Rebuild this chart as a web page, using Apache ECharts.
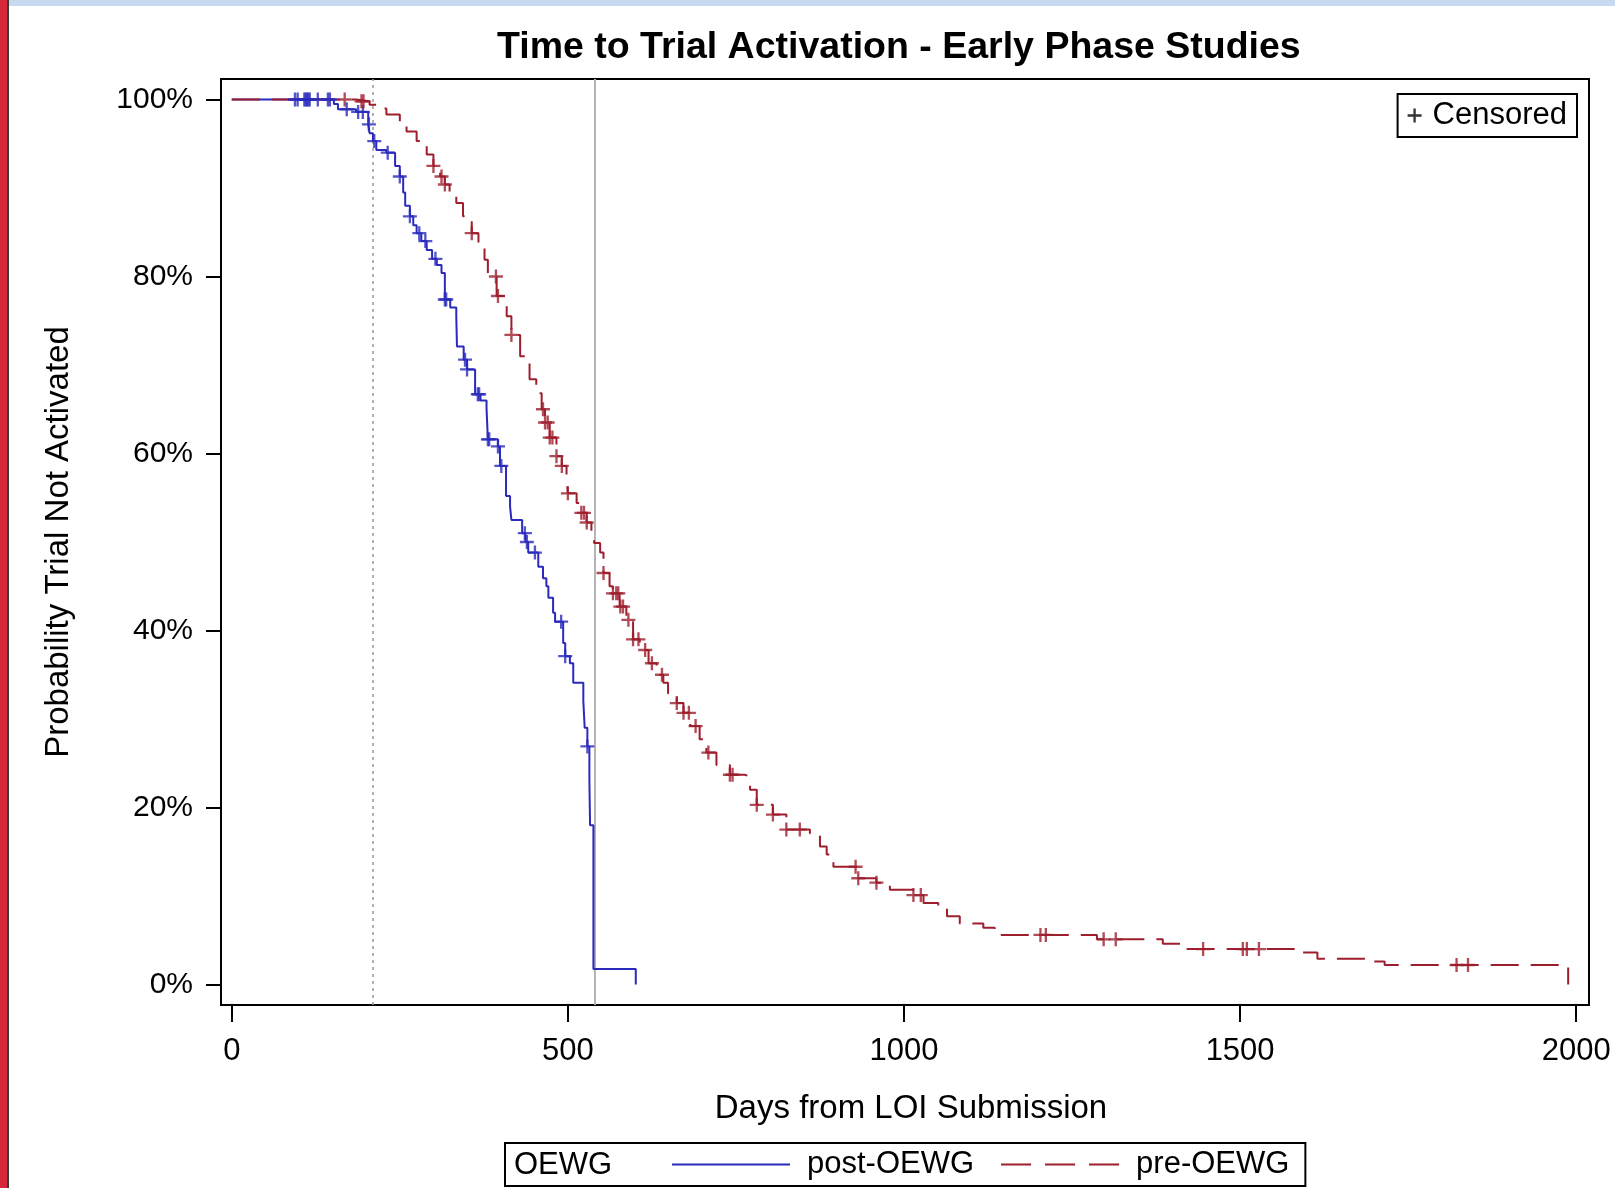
<!DOCTYPE html>
<html>
<head>
<meta charset="utf-8">
<script src="https://cdn.jsdelivr.net/npm/echarts@6/dist/echarts.min.js"></script>
<style>
html,body{margin:0;padding:0;background:#fff;}
#chart{width:1615px;height:1188px;}
</style>
</head>
<body>
<div id="chart"></div>
<script>
// ---- data ----
const chartTitle = 'Time to Trial Activation - Early Phase Studies';
const xTitle = 'Days from LOI Submission';
const yTitle = 'Probability Trial Not Activated';
const groupTitle = 'OEWG';
const groupNames = ['post-OEWG', 'pre-OEWG'];
const xTicks = [0, 500, 1000, 1500, 2000];
const yTicks = [0, 0.2, 0.4, 0.6, 0.8, 1.0];
const refDotted = 210;
const refSolid = 540;

// post-OEWG Kaplan-Meier steps (day, survival)
const postDays = [0,152,158,185,203,205,210,215,230,243,250,255,258,265,270,275,282,290,298,305,312,317,325,334,335,345,350,362,370,379,381,396,399,408,414,416,432,437,441,456,463,468,471,478,481,493,496,503,508,523,525,529,532,533,538,601];
const postSurv = [1,.995,.989,.986,.972,.962,.953,.943,.940,.925,.913,.895,.880,.868,.858,.849,.840,.830,.820,.813,.804,.774,.765,.755,.721,.706,.695,.667,.660,.651,.616,.608,.586,.552,.540,.525,.510,.500,.488,.472,.459,.450,.437,.420,.410,.386,.371,.363,.341,.320,.290,.269,.231,.180,.0175,0];
const postCensDays = [94,98,108,110,112,114,116,128,143,146,171,188,195,204,212,232,250,265,279,288,303,317,319,347,350,366,368,381,383,396,401,436,439,451,490,496,529];

// pre-OEWG Kaplan-Meier steps (day, survival)
const preDays = [0,185,205,215,230,250,260,275,290,300,310,317,324,334,344,357,367,376,381,394,409,416,429,443,453,461,466,473,483,491,498,500,513,520,528,535,539,548,553,562,567,577,587,597,607,620,632,642,649,662,672,682,696,706,721,741,763,771,781,805,825,860,875,885,895,930,959,979,1014,1029,1051,1064,1083,1118,1135,1287,1385,1415,1585,1615,1690,1715,1988];
const preSurv = [1,.998,.994,.990,.983,.975,.964,.953,.938,.925,.913,.904,.895,.883,.868,.849,.838,.819,.800,.778,.755,.734,.710,.684,.668,.650,.635,.618,.597,.586,.574,.555,.544,.533,.522,.510,.499,.488,.465,.450,.442,.427,.412,.390,.378,.363,.350,.341,.329,.318,.307,.292,.277,.262,.248,.237,.235,.220,.203,.192,.175,.171,.156,.147,.133,.120,.115,.107,.101,.092,.086,.077,.069,.064,.056,.051,.046,.040,.036,.029,.026,.022,0];
const preCensDays = [168,193,196,300,312,317,357,393,396,416,463,466,470,473,477,483,491,500,520,524,528,553,567,572,575,578,582,590,597,605,615,625,640,662,672,680,690,709,741,745,781,805,825,845,928,932,959,1014,1025,1203,1211,1297,1315,1445,1504,1510,1528,1822,1839];

// ---- helpers ----
function kmAt(days, surv, t) {
  let v = surv[0];
  for (let i = 0; i < days.length; i++) { if (days[i] <= t) v = surv[i]; else break; }
  return v;
}
const pair = (d, s) => d.map((x, i) => [x, s[i]]);
const cens = (cd, d, s) => cd.map(t => [t, kmAt(d, s, t)]);

const BLUE = '#2A2ABD';
const RED = '#9E1E2D';
const FONT = "'Liberation Sans', Arial, Helvetica, sans-serif";
const PLUS = 'path://M5,0H7V5H12V7H7V12H5V7H0V5H5Z';
const ICON_SOLID = 'path://M0,0H118V2H0Z';
const ICON_DASH = 'path://M0,0H30V2H0ZM44,0H74V2H44ZM88,0H118V2H88Z';

const chart = echarts.init(document.getElementById('chart'), null, {renderer: 'canvas'});
chart.setOption({
  backgroundColor: '#fff',
  animation: false,
  textStyle: {fontFamily: FONT, color: '#000'},
  graphic: [
    {type: 'rect', silent: true, shape: {x: 0, y: 0, width: 1615, height: 6}, style: {fill: '#C6D9F0'}},
    {type: 'rect', silent: true, shape: {x: 0, y: 0, width: 7, height: 1188}, style: {fill: '#D62839'}},
    {type: 'rect', silent: true, shape: {x: 7, y: 0, width: 2, height: 1188}, style: {fill: '#3a3a3a'}}
  ],
  title: [
    {text: chartTitle, left: 497, top: 29, padding: 0,
     textStyle: {fontFamily: FONT, fontSize: 37.5, fontWeight: 'bold', color: '#000'}},
    {text: groupTitle, left: 514, top: 1150, padding: 0,
     textStyle: {fontFamily: FONT, fontSize: 31, fontWeight: 'normal', color: '#000'}}
  ],
  legend: [
    {
      data: [
        {name: groupNames[0], icon: ICON_SOLID, itemStyle: {color: BLUE}},
        {name: groupNames[1], icon: ICON_DASH, itemStyle: {color: RED}}
      ],
      left: 505, top: 1143, orient: 'horizontal', symbolKeepAspect: false,
      padding: [6, 16, 6, 167], itemWidth: 118, itemHeight: 2, itemGap: 27,
      borderColor: '#000', borderWidth: 2,
      textStyle: {fontFamily: FONT, fontSize: 31, color: '#000', padding: [0, 0, 0, 12]}
    },
    {
      data: [{name: 'Censored', icon: PLUS, itemStyle: {color: '#000'}}],
      right: 38, top: 94, padding: [6, 10, 6, 10], itemWidth: 14, itemHeight: 14,
      borderColor: '#000', borderWidth: 2,
      textStyle: {fontFamily: FONT, fontSize: 31, color: '#000', padding: [0, 0, 0, 6]}
    }
  ],
  grid: {left: 221, right: 26, top: 79, bottom: 183, show: true, borderColor: '#000', borderWidth: 2, backgroundColor: 'transparent'},
  xAxis: {
    type: 'value', min: -16, max: 2019,
    name: xTitle, nameLocation: 'middle', nameGap: 87,
    nameTextStyle: {fontFamily: FONT, fontSize: 33, color: '#000', padding: [0, 0, 0, 12]},
    axisLine: {show: false, onZero: false},
    splitLine: {show: false},
    axisTick: {show: true, length: 17, customValues: xTicks, lineStyle: {color: '#000', width: 2}},
    axisLabel: {customValues: xTicks, margin: 31, fontFamily: FONT, fontSize: 31, color: '#000',
      formatter: v => String(v)}
  },
  yAxis: {
    type: 'value', min: -0.0232, max: 1.0232,
    name: yTitle, nameLocation: 'middle', nameGap: 146, nameRotate: 90,
    nameTextStyle: {fontFamily: FONT, fontSize: 33, color: '#000'},
    axisLine: {show: false, onZero: false},
    splitLine: {show: false},
    axisTick: {show: true, length: 15, customValues: yTicks, lineStyle: {color: '#000', width: 2}},
    axisLabel: {customValues: yTicks, margin: 28, fontFamily: FONT, fontSize: 30, color: '#000',
      formatter: v => Math.round(v * 100) + '%'}
  },
  series: [
    {
      name: groupNames[0], type: 'line', step: 'end', data: pair(postDays, postSurv),
      showSymbol: false, symbol: 'none', z: 3,
      lineStyle: {color: BLUE, width: 2, type: 'solid'}, itemStyle: {color: BLUE},
      markLine: {
        silent: true, symbol: 'none', label: {show: false}, z: 1,
        data: [
          {xAxis: refDotted, lineStyle: {type: [3, 4], color: '#9a9a9a', width: 1.5}},
          {xAxis: refSolid, lineStyle: {type: 'solid', color: '#b5b5b5', width: 2}}
        ]
      }
    },
    {
      name: groupNames[1], type: 'line', step: 'end', data: pair(preDays, preSurv),
      showSymbol: false, symbol: 'none', z: 4,
      lineStyle: {color: RED, width: 2, type: [28, 12]}, itemStyle: {color: RED}
    },
    {
      name: 'Censored', type: 'scatter', data: cens(postCensDays, postDays, postSurv),
      symbol: PLUS, symbolSize: 14, z: 5, itemStyle: {color: BLUE}
    },
    {
      name: 'Censored', type: 'scatter', data: cens(preCensDays, preDays, preSurv),
      symbol: PLUS, symbolSize: 14, z: 5, itemStyle: {color: RED}
    }
  ]
});
</script>
</body>
</html>
